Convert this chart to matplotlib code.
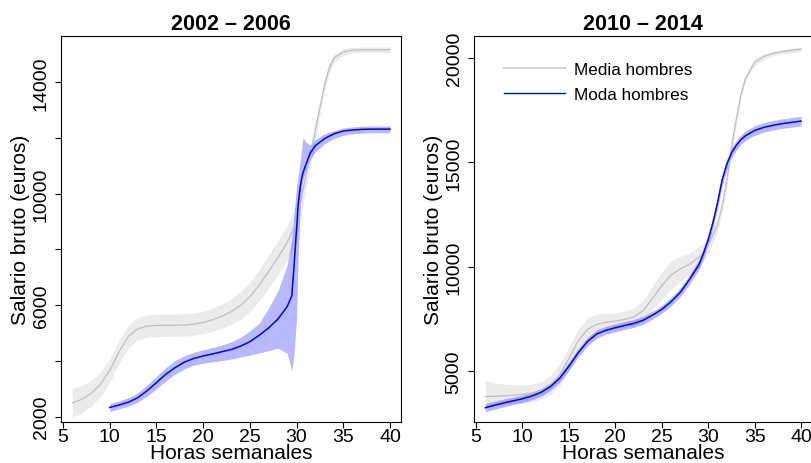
import matplotlib
matplotlib.use("Agg")
import matplotlib.pyplot as plt
from matplotlib.lines import Line2D

plt.rcParams["font.family"] = ["Liberation Sans", "DejaVu Sans"]

GRAY = "#bebebe"
BLUE = "#0000ff"

# 2002 - 2006: mean wage of men, with confidence band
horas_media_02 = [6, 7, 8, 9, 10, 11, 12, 13, 14, 15, 16, 17, 18, 19, 20, 21, 22, 23,
                  24, 25, 26, 27, 28, 29, 29.5, 30, 30.5, 31, 31.5, 32, 32.5, 33,
                  33.5, 34, 35, 36, 37, 38, 39, 40]
media_02 = [2500, 2620, 2830, 3160, 3650, 4330, 4880, 5150, 5250, 5275, 5280, 5285,
            5290, 5320, 5380, 5480, 5600, 5770, 5990, 6300, 6720, 7200, 7700, 8250,
            8620, 9050, 9800, 10650, 11350, 12250, 13100, 13900, 14500, 14870, 15090,
            15150, 15165, 15170, 15170, 15170]
media_02_lo = [1980, 2130, 2370, 2720, 3220, 3910, 4470, 4750, 4850, 4875, 4880, 4885,
               4890, 4920, 4980, 5070, 5170, 5310, 5490, 5770, 6160, 6610, 7090, 7630,
               8000, 8450, 9250, 10170, 10950, 11920, 12830, 13680, 14320, 14720, 14970,
               15050, 15065, 15070, 15070, 15070]
media_02_hi = [3020, 3110, 3290, 3600, 4080, 4750, 5290, 5550, 5650, 5675, 5680, 5685,
               5690, 5720, 5780, 5890, 6030, 6230, 6490, 6830, 7280, 7790, 8310, 8870,
               9240, 9650, 10350, 11130, 11750, 12580, 13370, 14120, 14680, 15020, 15210,
               15250, 15265, 15270, 15270, 15270]

# 2002 - 2006: modal wage of men
horas_moda_02 = [10, 11, 12, 13, 14, 15, 16, 17, 18, 19, 20, 21, 22, 23, 24, 25, 26,
                 27, 28, 29, 29.5, 29.7, 30, 30.2, 30.4, 30.55, 30.7, 31, 31.5, 32,
                 33, 34, 35, 36, 37, 38, 39, 40]
moda_02 = [2330, 2420, 2520, 2680, 2930, 3220, 3520, 3760, 3960, 4090, 4180, 4250,
           4330, 4410, 4530, 4690, 4920, 5180, 5500, 5950, 6340, 7250, 8700, 9700,
           10250, 10550, 10760, 11050, 11480, 11720, 11980, 12150, 12250, 12290,
           12310, 12320, 12320, 12320]
moda_02_lo = [2190, 2280, 2380, 2520, 2740, 3000, 3280, 3520, 3720, 3850, 3920, 3970,
              4010, 4070, 4140, 4210, 4290, 4370, 4460, 4280, 3650, 4100, 5500, 7900,
              9700, 10300, 10550, 10850, 11250, 11500, 11800, 11980, 12100, 12150,
              12180, 12190, 12190, 12190]
moda_02_hi = [2470, 2570, 2680, 2860, 3130, 3440, 3760, 4010, 4190, 4310, 4400, 4480,
              4570, 4680, 4850, 5080, 5350, 5900, 6500, 7450, 8400, 9150, 10250, 10700,
              11200, 11650, 12020, 11850, 11750, 11950, 12150, 12260, 12360, 12400,
              12420, 12430, 12430, 12430]

# 2010 - 2014
horas_14 = [6, 7, 8, 9, 10, 11, 12, 13, 14, 15, 16, 17, 18, 19, 20, 21, 22, 23, 24,
            25, 26, 27, 28, 29, 29.5, 30, 30.5, 31, 31.5, 32, 32.5, 33, 33.5, 34,
            35, 36, 37, 38, 39, 40]
media_14 = [3780, 3800, 3815, 3850, 3890, 3950, 4070, 4330, 4820, 5600, 6450, 7000,
            7250, 7340, 7400, 7480, 7600, 7900, 8480, 9100, 9600, 9900, 10130, 10450,
            10700, 11050, 11500, 12000, 12900, 14100, 15700, 17000, 18200, 19000,
            19800, 20080, 20220, 20310, 20370, 20420]
media_14_lo = [3250, 3330, 3400, 3440, 3470, 3530, 3650, 3880, 4300, 5050, 5880, 6450,
               6800, 6930, 7010, 7080, 7170, 7400, 7900, 8450, 8930, 9300, 9620, 9940,
               10250, 10650, 11150, 11700, 12600, 13800, 15400, 16750, 17980, 18850,
               19640, 19950, 20110, 20200, 20260, 20310]
media_14_hi = [4550, 4450, 4380, 4350, 4330, 4380, 4500, 4780, 5340, 6150, 7020, 7560,
               7730, 7750, 7800, 7880, 8030, 8400, 9060, 9750, 10270, 10500, 10640,
               10950, 11150, 11450, 11850, 12300, 13200, 14400, 16000, 17250, 18420,
               19150, 19960, 20210, 20330, 20420, 20480, 20530]
moda_14 = [3250, 3370, 3480, 3580, 3680, 3810, 3990, 4260, 4660, 5240, 5880, 6420,
           6780, 6960, 7080, 7190, 7290, 7440, 7680, 7960, 8330, 8780, 9400, 10100,
           10650, 11300, 12100, 13050, 14150, 14900, 15450, 15800, 16080, 16270,
           16530, 16680, 16780, 16860, 16920, 16980]
moda_14_lo = [3060, 3180, 3290, 3400, 3500, 3630, 3810, 4080, 4470, 5040, 5680, 6220,
              6580, 6770, 6890, 7000, 7100, 7250, 7490, 7770, 8130, 8570, 9180, 9870,
              10410, 11050, 11840, 12790, 13890, 14650, 15210, 15570, 15850, 16040,
              16300, 16450, 16550, 16630, 16690, 16750]
moda_14_hi = [3450, 3560, 3670, 3760, 3860, 3990, 4170, 4440, 4850, 5440, 6080, 6620,
              6980, 7150, 7270, 7380, 7480, 7630, 7870, 8150, 8530, 8990, 9620, 10330,
              10890, 11550, 12360, 13310, 14410, 15150, 15690, 16030, 16310, 16500,
              16760, 16910, 17010, 17090, 17150, 17210]

xticks = [5, 10, 15, 20, 25, 30, 35, 40]


def style_axes(ax, title, yticks, ylabels):
    ax.set_title(title, fontsize=15.5, fontweight="bold", pad=5)
    ax.set_xticks(xticks)
    ax.set_xticklabels([str(t) for t in xticks])
    ax.set_yticks(yticks)
    ax.set_yticklabels(ylabels, rotation=90, va="center")
    ax.tick_params(axis="both", direction="out", length=4, width=0.8,
                   labelsize=14, color="black")
    ax.tick_params(axis="x", pad=0)
    ax.tick_params(axis="y", pad=4)
    ax.set_xlabel("Horas semanales", fontsize=15, labelpad=-1)
    ax.set_ylabel("Salario bruto (euros)", fontsize=15, labelpad=2)
    for s in ax.spines.values():
        s.set_linewidth(0.8)
        s.set_color("black")


fig = plt.figure(figsize=(8.12, 4.64), dpi=100)

# left panel
ax1 = fig.add_axes([0.0751, 0.0884, 0.4187, 0.8319])
ax1.fill_between(horas_media_02, media_02_lo, media_02_hi, color=GRAY, alpha=0.3, lw=0)
ax1.plot(horas_media_02, media_02, color=GRAY, lw=0.9)
ax1.fill_between(horas_moda_02, moda_02_lo, moda_02_hi, color=BLUE, alpha=0.28, lw=0)
ax1.plot(horas_moda_02, moda_02, color=BLUE, lw=1.1)
ax1.set_xlim(4.79, 41.18)
ax1.set_ylim(1810, 15662)
style_axes(ax1, "2002 \u2013 2006",
           [2000, 4000, 6000, 8000, 10000, 12000, 14000],
           ["2000", "", "6000", "", "10000", "", "14000"])

# right panel
ax2 = fig.add_axes([0.5834, 0.0884, 0.4174, 0.8319])
ax2.fill_between(horas_14, media_14_lo, media_14_hi, color=GRAY, alpha=0.3, lw=0)
ax2.plot(horas_14, media_14, color=GRAY, lw=0.9)
ax2.fill_between(horas_14, moda_14_lo, moda_14_hi, color=BLUE, alpha=0.28, lw=0)
ax2.plot(horas_14, moda_14, color=BLUE, lw=1.1)
ax2.set_xlim(4.75, 41.25)
ax2.set_ylim(2567, 21056)
style_axes(ax2, "2010 \u2013 2014",
           [5000, 10000, 15000, 20000],
           ["5000", "10000", "15000", "20000"])

handles = [Line2D([], [], color="#d3d3d3", lw=1.6),
           Line2D([], [], color=BLUE, lw=1.0)]
ax2.legend(handles, ["Media hombres", "Moda hombres"], loc="upper left",
           bbox_to_anchor=(0.088, 0.932), frameon=False, fontsize=12.3,
           handlelength=3.6, handletextpad=0.5, labelspacing=0.55, borderpad=0,
           borderaxespad=0)

fig.savefig("out.png", dpi=100)
